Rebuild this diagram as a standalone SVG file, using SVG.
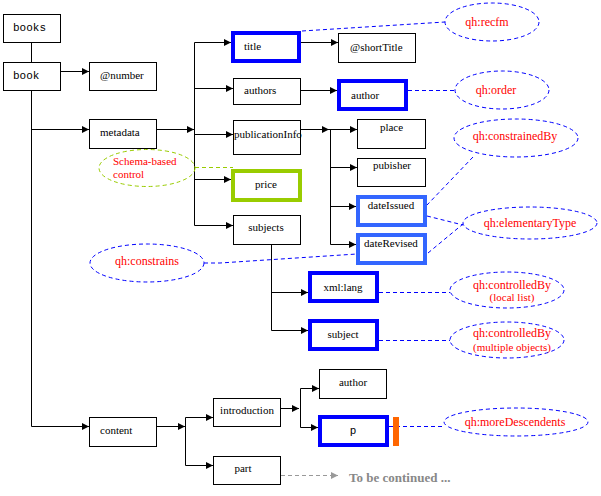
<svg xmlns="http://www.w3.org/2000/svg" width="601" height="496" viewBox="0 0 601 496">
<defs>
<marker id="arr" markerUnits="userSpaceOnUse" markerWidth="9" markerHeight="9" refX="7" refY="4" orient="auto">
<path d="M0,0.5 L7,4 L0,7.5 Z" fill="#000"/>
</marker>
<marker id="arrg" markerUnits="userSpaceOnUse" markerWidth="9" markerHeight="9" refX="7" refY="4" orient="auto">
<path d="M0,0.5 L7,4 L0,7.5 Z" fill="#999"/>
</marker>
<style>
.box{fill:#fff;stroke:#000;stroke-width:1}
.thick{fill:#fff;stroke:#0000ff;stroke-width:4}
.mid{fill:#fff;stroke:#3366ff;stroke-width:4}
.green{fill:#fff;stroke:#99cc00;stroke-width:4}
.t{font-family:"Liberation Serif","Times New Roman",serif;font-size:11px;fill:#000}
.m{font-family:"Liberation Mono","Courier New",monospace;font-size:11px;fill:#000}
.c{text-anchor:middle}
.r{font-family:"Liberation Serif","Times New Roman",serif;font-size:12px;fill:#ff0000;text-anchor:middle}
.rs{font-family:"Liberation Serif","Times New Roman",serif;font-size:11px;fill:#ff0000}
.ell{fill:none;stroke:#0000ff;stroke-width:1;stroke-dasharray:4,3}
.ellg{fill:none;stroke:#99cc00;stroke-width:1;stroke-dasharray:4,3}
.ln{fill:none;stroke:#000;stroke-width:1}
.la{fill:none;stroke:#000;stroke-width:1;marker-end:url(#arr)}
.dl{fill:none;stroke:#0000ff;stroke-width:1;stroke-dasharray:4,3}
.dg{fill:none;stroke:#99cc00;stroke-width:1;stroke-dasharray:4,3}
.gr{fill:none;stroke:#999;stroke-width:1;stroke-dasharray:4,3;marker-end:url(#arrg)}
</style>
</defs>
<rect width="601" height="496" fill="#fff"/>

<g id="connectors">
<line class="ln" x1="31.5" y1="42" x2="31.5" y2="62"/>
<line class="la" x1="60" y1="71.5" x2="89" y2="71.5"/>
<line class="ln" x1="31.5" y1="90" x2="31.5" y2="426.5"/>
<line class="la" x1="31.5" y1="129.5" x2="89" y2="129.5"/>
<line class="la" x1="31.5" y1="426.5" x2="89" y2="426.5"/>
<line class="la" x1="156" y1="129.5" x2="194" y2="129.5"/>
<line class="ln" x1="194.5" y1="42.5" x2="194.5" y2="225.5"/>
<line class="la" x1="194.5" y1="42.5" x2="231" y2="42.5"/>
<line class="la" x1="194.5" y1="88.5" x2="233" y2="88.5"/>
<line class="la" x1="194.5" y1="134.5" x2="233" y2="134.5"/>
<line class="la" x1="194.5" y1="179.5" x2="231" y2="179.5"/>
<line class="la" x1="194.5" y1="225.5" x2="233" y2="225.5"/>
<line class="la" x1="301" y1="42.5" x2="338" y2="42.5"/>
<line class="la" x1="300" y1="90.5" x2="337" y2="90.5"/>
<line class="la" x1="300" y1="129.5" x2="329" y2="129.5"/>
<line class="la" x1="329" y1="129.5" x2="357" y2="129.5"/>
<line class="ln" x1="330.5" y1="129.5" x2="330.5" y2="244.5"/>
<line class="la" x1="330.5" y1="167.5" x2="357" y2="167.5"/>
<line class="la" x1="330.5" y1="206.5" x2="356" y2="206.5"/>
<line class="la" x1="330.5" y1="244.5" x2="356" y2="244.5"/>
<line class="ln" x1="271.5" y1="244" x2="271.5" y2="330.5"/>
<line class="la" x1="271.5" y1="292.5" x2="308" y2="292.5"/>
<line class="la" x1="271.5" y1="330.5" x2="308" y2="330.5"/>
<line class="la" x1="156" y1="426.5" x2="185" y2="426.5"/>
<line class="ln" x1="185.5" y1="417.5" x2="185.5" y2="465.5"/>
<line class="la" x1="185.5" y1="417.5" x2="213" y2="417.5"/>
<line class="la" x1="185.5" y1="465.5" x2="213" y2="465.5"/>
<line class="la" x1="281" y1="408.5" x2="299" y2="408.5"/>
<line class="ln" x1="300.5" y1="388.5" x2="300.5" y2="427.5"/>
<line class="la" x1="300.5" y1="388.5" x2="319" y2="388.5"/>
<line class="la" x1="300.5" y1="427.5" x2="318" y2="427.5"/>
<line class="gr" x1="281" y1="475.5" x2="338" y2="475.5"/>
<polyline class="dl" points="302,31 445,22"/>
<line class="dl" x1="408" y1="90.5" x2="455" y2="90.5"/>
<line class="dl" x1="473" y1="157" x2="427" y2="205"/>
<line class="dl" x1="427" y1="216" x2="463" y2="225"/>
<line class="dl" x1="428" y1="253" x2="463" y2="224"/>
<polyline class="dl" points="204,263 220,263 357,254"/>
<line class="dl" x1="379" y1="292.5" x2="450" y2="292.5"/>
<line class="dl" x1="379" y1="340.5" x2="450" y2="340.5"/>
<line class="dl" x1="389" y1="426.5" x2="444" y2="426.5"/>
<line class="dg" x1="195" y1="167.5" x2="233" y2="167.5"/>
</g>

<g id="books"><rect class="box" x="3.5" y="14.5" width="57" height="28"/><text class="m" x="13" y="31">books</text></g>
<g id="book"><rect class="box" x="3.5" y="62.5" width="57" height="28"/><text class="m" x="13" y="79">book</text></g>
<g id="number"><rect class="box" x="89.5" y="62.5" width="67" height="28"/><text class="t" x="100" y="79">@number</text></g>
<g id="metadata"><rect class="box" x="89.5" y="119.5" width="67" height="29"/><text class="t" x="100" y="136">metadata</text></g>
<g id="title"><rect class="thick" x="233" y="33" width="66" height="28"/><text class="t" x="244" y="50">title</text></g>
<g id="shortTitle"><rect class="box" x="338.5" y="33.5" width="77" height="29"/><text class="t" x="350" y="51">@shortTitle</text></g>
<g id="authors"><rect class="box" x="233.5" y="78.5" width="67" height="26"/><text class="t" x="244" y="94">authors</text></g>
<g id="author"><rect class="thick" x="339" y="81" width="67" height="28"/><text class="t" x="351" y="99">author</text></g>
<g id="publicationInfo"><rect class="box" x="233.5" y="120.5" width="67" height="34"/><text class="t" x="234" y="138">publicationInfo</text></g>
<g id="place"><rect class="box" x="357.5" y="119.5" width="68" height="29"/><text class="t c" x="391.5" y="131">place</text></g>
<g id="pubisher"><rect class="box" x="357.5" y="158.5" width="68" height="28"/><text class="t c" x="392" y="169">pubisher</text></g>
<g id="dateIssued"><rect class="mid" x="358" y="197" width="67" height="28"/><text class="t c" x="391" y="209">dateIssued</text></g>
<g id="dateRevised"><rect class="mid" x="358" y="235" width="67" height="28"/><text class="t c" x="391" y="247">dateRevised</text></g>
<g id="price"><rect class="green" x="233" y="171" width="67" height="29"/><text class="t c" x="266" y="188">price</text></g>
<g id="subjects"><rect class="box" x="233.5" y="215.5" width="67" height="29"/><text class="t c" x="266" y="231">subjects</text></g>
<g id="xmllang"><rect class="thick" x="310" y="273" width="67" height="28"/><text class="t c" x="343" y="291">xml:lang</text></g>
<g id="subject"><rect class="thick" x="310" y="321" width="67" height="28"/><text class="t c" x="343" y="338">subject</text></g>
<g id="content"><rect class="box" x="89.5" y="417.5" width="67" height="29"/><text class="t" x="100" y="434">content</text></g>
<g id="introduction"><rect class="box" x="213.5" y="398.5" width="67" height="28"/><text class="t c" x="247" y="414">introduction</text></g>
<g id="part"><rect class="box" x="213.5" y="456.5" width="67" height="28"/><text class="t c" x="243" y="472">part</text></g>
<g id="author2"><rect class="box" x="319.5" y="369.5" width="67" height="29"/><text class="t c" x="353" y="386">author</text></g>
<g id="p"><rect class="thick" x="320" y="417" width="67" height="28"/><text class="m c" x="353" y="434">p</text><rect x="393" y="417" width="6" height="29" fill="#ff6600"/></g>

<g id="recfm"><ellipse class="ell" cx="492" cy="22" rx="47" ry="19"/><text class="r" x="487" y="26">qh:recfm</text></g>
<g id="order"><ellipse class="ell" cx="502" cy="90" rx="47" ry="19"/><text class="r" x="496" y="94">qh:order</text></g>
<g id="constrainedBy"><ellipse class="ell" cx="516" cy="138" rx="62" ry="19"/><text class="r" x="515" y="140">qh:constrainedBy</text></g>
<g id="elementaryType"><ellipse class="ell" cx="530" cy="223" rx="67" ry="16"/><text class="r" x="530" y="227">qh:elementaryType</text></g>
<g id="constrains"><ellipse class="ell" cx="147" cy="263" rx="57" ry="19"/><text class="r" x="147" y="265">qh:constrains</text></g>
<g id="schema"><ellipse class="ellg" cx="147" cy="168" rx="48" ry="18.5"/><text class="rs" x="113" y="165">Schema-based</text><text class="rs" x="113" y="178">control</text></g>
<g id="controlledBy1"><ellipse class="ell" cx="507" cy="290" rx="57" ry="18"/><text class="r" x="512" y="289">qh:controlledBy</text><text class="rs c" x="512" y="301">(local list)</text></g>
<g id="controlledBy2"><ellipse class="ell" cx="507" cy="340" rx="57" ry="18"/><text class="r" x="512" y="337">qh:controlledBy</text><text class="rs c" x="512" y="351">(multiple objects)</text></g>
<g id="moreDescendents"><ellipse class="ell" cx="516" cy="422" rx="72" ry="14"/><text class="r" x="515" y="426">qh:moreDescendents</text></g>
<g id="continued"><text x="349" y="482" font-family="Liberation Serif, Times New Roman, serif" font-size="13" font-weight="bold" fill="#888">To be continued ...</text></g>
</svg>
